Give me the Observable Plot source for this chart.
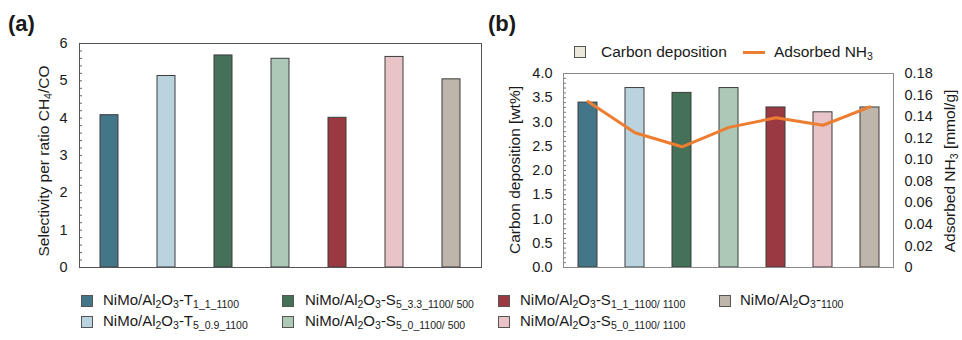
<!DOCTYPE html>
<html><head><meta charset="utf-8">
<script src="https://cdn.jsdelivr.net/npm/d3@7"></script>
<script src="https://cdn.jsdelivr.net/npm/@observablehq/plot@0.6"></script>
<style>
body{margin:0;background:#fff;font-family:"Liberation Sans",Arial,sans-serif;color:#1a1a1a;}
#root{position:relative;width:962px;height:340px;overflow:hidden;}
.abs{position:absolute;white-space:nowrap;}
.title{font-weight:bold;font-size:22px;}
.lbl{font-size:15.5px;line-height:16px;transform:translate(-50%,-50%) rotate(-90deg);}
sub{font-size:10.5px;vertical-align:-3px;line-height:0;}
.sw{position:absolute;width:10px;height:10px;border:1px solid #555;}
.lt{position:absolute;font-size:15px;line-height:16px;white-space:nowrap;}
.lt2{position:absolute;font-size:15.5px;line-height:16px;white-space:nowrap;}
svg{position:absolute;}
</style></head><body><div id="root"></div>
<script>
// ---- data ----
const prefixes = ["T", "T", "S", "S", "S", "S", ""];
const subscripts = ["1_1_1100", "5_0.9_1100", "5_3.3_1100/ 500", "5_0_1100/ 500", "1_1_1100/ 1100", "5_0_1100/ 1100", "1100"];
const categories = subscripts.map((s, i) => `NiMo/Al2O3-${prefixes[i]}${s}`);
const selectivity = [4.08, 5.13, 5.68, 5.59, 4.01, 5.64, 5.04];
const carbon = [3.4, 3.7, 3.6, 3.7, 3.3, 3.2, 3.3];
const nh3 = [0.154, 0.125, 0.112, 0.130, 0.139, 0.132, 0.149];
const colors = ["#44768a", "#b9d4de", "#467159", "#adc8b7", "#9b3942", "#e8c3c8", "#bfb6ab"];
const yTicksA = [0, 1, 2, 3, 4, 5, 6];
const yTicksB = [0, 0.5, 1, 1.5, 2, 2.5, 3, 3.5, 4];
const y2Ticks = [0, 0.02, 0.04, 0.06, 0.08, 0.10, 0.12, 0.14, 0.16, 0.18];
const y2Max = 0.18, yBMax = 4;
const k = yBMax / y2Max;

const root = document.getElementById("root");
const font = {fontFamily: "Liberation Sans, Arial, sans-serif", fontSize: "14px", color: "#1a1a1a", background: "transparent"};

const dataA = categories.map((c, i) => ({cat: c, v: selectivity[i]}));
const dataB = categories.map((c, i) => ({cat: c, v: carbon[i], n: nh3[i]}));

const plotA = Plot.plot({
  width: 482, height: 280, marginLeft: 79, marginRight: 1, marginTop: 43, marginBottom: 13,
  style: font,
  x: {domain: categories, paddingInner: 0.69, paddingOuter: 0.345, axis: null},
  y: {domain: [0, 6]},
  color: {domain: categories, range: colors},
  marks: [
    Plot.axisY({ticks: d3.range(31).map(i => i * 0.2), tickSize: -3, stroke: "#666", tickFormat: () => "", label: null}),
    Plot.axisY({ticks: yTicksA, tickSize: 0, tickPadding: 12, fontSize: 14.5, tickFormat: d => String(d), label: null}),
    Plot.barY(dataA, {x: "cat", y: "v", fill: "cat", stroke: "#3c3c3c", strokeWidth: 1}),
    Plot.frame({stroke: "#555"})
  ]
});
plotA.style.left = "0px"; plotA.style.top = "0px";
root.appendChild(plotA);

const plotB = Plot.plot({
  width: 481, height: 280, marginLeft: 82, marginRight: 69, marginTop: 73, marginBottom: 13,
  style: font,
  x: {domain: categories, paddingInner: 0.6, paddingOuter: 0.3, axis: null},
  y: {domain: [0, yBMax]},
  color: {domain: categories, range: colors},
  marks: [
    Plot.axisY({ticks: d3.range(41).map(i => i * 0.1), tickSize: -3, stroke: "#777", tickFormat: () => "", label: null}),
    Plot.axisY({ticks: yTicksB, tickSize: 0, tickPadding: 11, fontSize: 14.5, tickFormat: d => d.toFixed(1), label: null}),
    Plot.axisY({anchor: "right", ticks: y2Ticks.map(v => v * k), tickSize: 0, tickPadding: 11, fontSize: 14.5, label: null,
      tickFormat: d => { const v = d / k; return v < 1e-9 ? "0" : v.toFixed(2); }}),
    Plot.barY(dataB, {x: "cat", y: "v", fill: "cat", stroke: "#3c3c3c", strokeWidth: 1}),
    Plot.lineY(dataB, {x: "cat", y: d => d.n * k, stroke: "#ed7d31", strokeWidth: 3}),
    Plot.frame({stroke: "#8a8a8a"})
  ]
});
plotB.style.left = "481px"; plotB.style.top = "0px";
root.appendChild(plotB);

function add(html, cls, x, y) {
  const d = document.createElement("div");
  d.className = "abs " + cls; d.innerHTML = html;
  d.style.left = x + "px"; d.style.top = y + "px";
  root.appendChild(d); return d;
}
add("(a)", "title", 8, 11);
add("(b)", "title", 488, 11);
add("Selectivity per ratio CH<sub>4</sub>/CO", "lbl", 44, 161);
add("Carbon deposition [wt%]", "lbl", 515, 170);
add("Adsorbed NH<sub>3</sub> [mmol/g]", "lbl", 950, 171);

// top legend of (b)
const s0 = document.createElement("div"); s0.className = "sw";
Object.assign(s0.style, {left: "574px", top: "46px", background: "#ebe7db"}); root.appendChild(s0);
add("Carbon deposition", "lt2", 601, 44);
const ln = document.createElement("div");
Object.assign(ln.style, {position: "absolute", left: "743px", top: "51px", width: "22px", height: "3px", background: "#ed7d31"});
root.appendChild(ln);
add("Adsorbed NH<sub>3</sub>", "lt2", 774, 44);

// bottom legend
const swX = [81, 282, 498, 719], txX = [103, 305, 520, 740], rowY = [301, 322];
categories.forEach((c, i) => {
  const col = Math.floor(i / 2), row = i % 2;
  const s = document.createElement("div"); s.className = "sw";
  Object.assign(s.style, {left: swX[col] + "px", top: (rowY[row] - 6) + "px", background: colors[i]});
  root.appendChild(s);
  add(`NiMo/Al<sub>2</sub>O<sub>3</sub>-${prefixes[i]}<sub>${subscripts[i]}</sub>`, "lt", txX[col], rowY[row] - 9);
});
</script></body></html>
